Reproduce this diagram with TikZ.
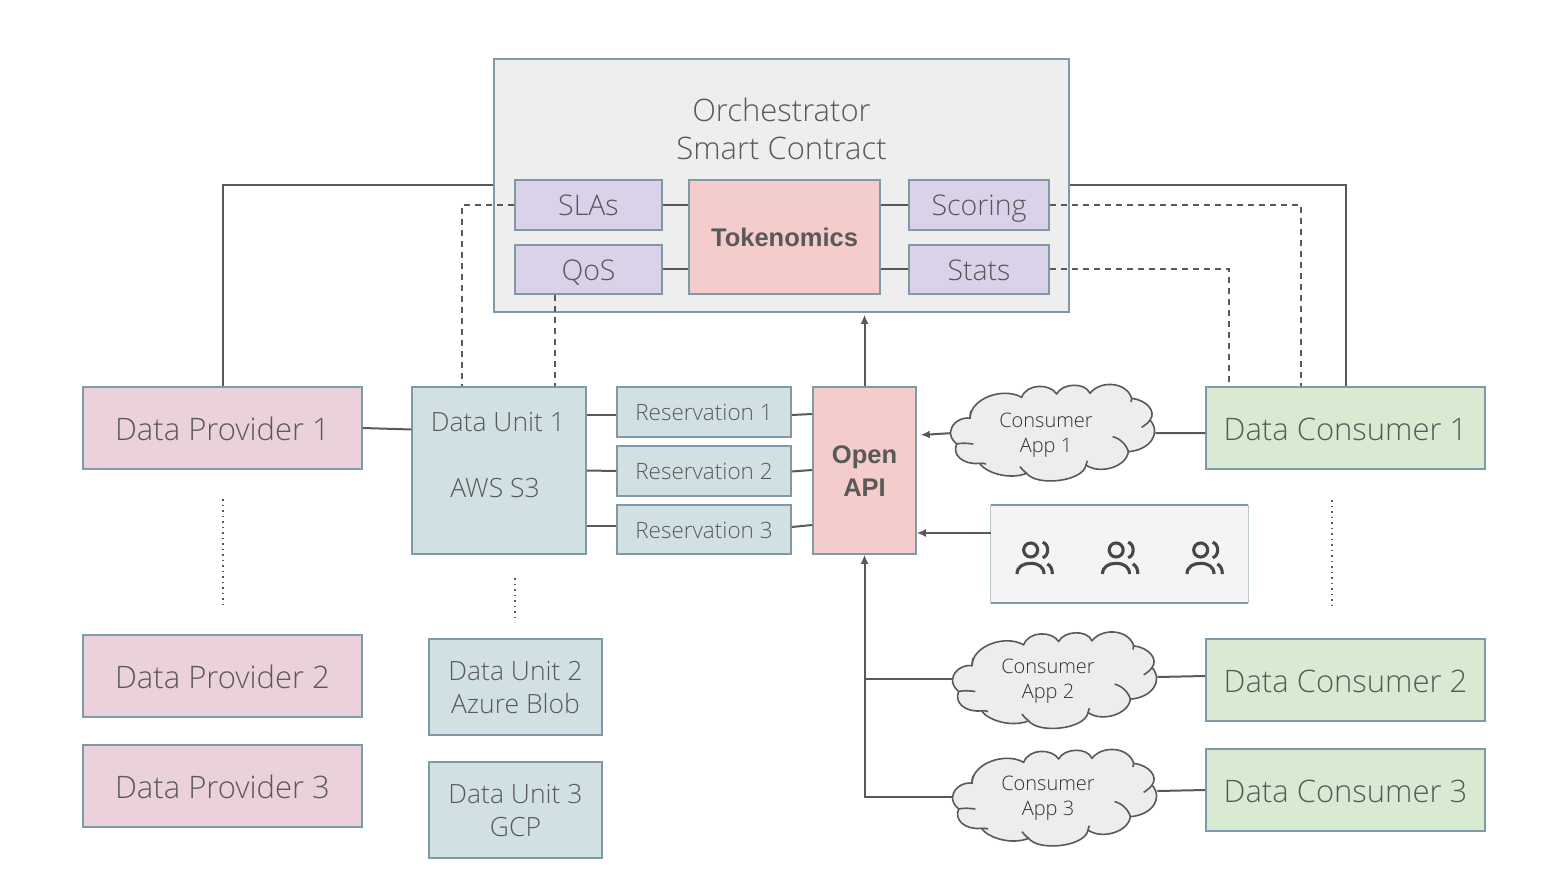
\documentclass[tikz,border=0pt]{standalone}
\usepackage{fontspec}
\setmainfont{Open Sans}[UprightFont=* Light,BoldFont=* Bold]
\newfontfamily\heavyface{Liberation Sans}
\usetikzlibrary{calc,arrows.meta}
\definecolor{txt}{HTML}{595959}
\definecolor{edge}{HTML}{7F99A6}
\definecolor{ln}{HTML}{595959}
\tikzset{
 bx/.style={draw=edge,line width=1.5pt,inner sep=0pt,text=txt,align=center},
 orchbox/.style={bx,fill=black!6.7},
 lilac/.style={bx,fill={rgb,255:red,217;green,210;blue,233},font=\fontsize{28.5}{34}\selectfont,text height=22pt,text depth=0pt},
 pinkbox/.style={bx,fill={rgb,255:red,244;green,204;blue,204},font=\fontsize{25.5}{33}\selectfont\heavyface\bfseries},
 provider/.style={bx,fill={rgb,255:red,234;green,209;blue,220},font=\fontsize{31}{37}\selectfont,text height=25.5pt,text depth=0pt},
 teal/.style={bx,fill={rgb,255:red,208;green,224;blue,227},font=\fontsize{26.5}{33}\selectfont},
 resv/.style={bx,fill={rgb,255:red,208;green,224;blue,227},font=\fontsize{22.5}{27}\selectfont},
 consumer/.style={bx,fill={rgb,255:red,217;green,234;blue,211},font=\fontsize{31}{37}\selectfont,text height=25.5pt,text depth=0pt},
 wire/.style={draw=ln,line width=2pt},
 dashwire/.style={wire,dash pattern=on 6pt off 5pt},
 dotwire/.style={draw=ln,line width=1.2pt,dash pattern=on 1.5pt off 4pt},
 arrowwire/.style={wire,-{Latex[length=9pt,width=8pt]}},
 cloudline/.style={draw=ln,line width=1.6pt,fill=black!7,line join=round},
 cloudlabel/.style={text=black!80,font=\fontsize{20}{25.5}\selectfont,align=center,inner sep=0pt},
 iconline/.style={draw=black!72,line width=3.1pt,line cap=butt},
 free/.style={text=txt,inner sep=0pt,align=center,font=\fontsize{26.5}{33}\selectfont},
 heavy/.style={text=txt,inner sep=0pt,align=center,font=\fontsize{25.5}{33}\selectfont\heavyface\bfseries},
}
\newcommand{\bbox}[7]{%
 \pgfmathsetmacro{\bcx}{(#2+#4)/2}\pgfmathsetmacro{\bcy}{(#3+#5)/2}%
 \pgfmathsetmacro{\bwd}{#4-#2}\pgfmathsetmacro{\bht}{#5-#3}%
 \node[#6,minimum width=\bwd pt,minimum height=\bht pt] (#1) at (\bcx,\bcy) {#7};}
\newcommand{\cloudat}[3]{%
 \begin{scope}[shift={(#2,#3)},x=0.33333pt,y=-0.33333pt]
  \path[cloudline] (92,185) .. controls (95,155) and (130,140) .. (150,145)
   .. controls (150,85) and (250,50) .. (305,82)
   .. controls (320,40) and (390,40) .. (410,72)
   .. controls (425,40) and (495,35) .. (510,70)
   .. controls (540,30) and (620,35) .. (635,85)
   .. controls (680,90) and (710,125) .. (690,150)
   .. controls (725,190) and (690,240) .. (625,245)
   .. controls (620,290) and (540,315) .. (498,285)
   .. controls (490,335) and (350,350) .. (320,310)
   .. controls (270,330) and (200,310) .. (178,280)
   .. controls (130,285) and (95,255) .. (110,222)
   .. controls (95,210) and (90,195) .. (92,185) -- cycle;
  \path[draw=ln,line width=1.6pt] (110,222) .. controls (125,218) and (145,220) .. (160,222);
  \path[draw=ln,line width=1.6pt] (578,200) .. controls (600,205) and (620,225) .. (625,245);
  \path[draw=ln,line width=1.6pt] (690,150) .. controls (685,158) and (675,166) .. (665,172);
  \path[draw=ln,line width=1.6pt] (150,145) .. controls (150,138) and (151,130) .. (153,122);
  \path[draw=ln,line width=1.6pt] (635,85) .. controls (635,90) and (634,93) .. (633,96);
  \path[draw=ln,line width=1.6pt] (498,285) .. controls (498,280) and (500,276) .. (502,272);
  \path[draw=ln,line width=1.6pt] (320,310) .. controls (310,302) and (304,296) .. (300,290);
  \path[draw=ln,line width=1.6pt] (178,280) .. controls (186,279) and (192,280) .. (198,282);
  \coordinate (#1w) at (92,185);
  \coordinate (#1e) at (706,189);
 \end{scope}}
\newcommand{\peopleicon}[2]{%
 \begin{scope}[shift={(#1,#2)},x=0.33333pt,y=-0.33333pt]
  \draw[iconline] (332,540) circle[radius=7pt];
  \draw[iconline] (368,517) .. controls (388,522) and (388,558) .. (368,563);
  \draw[iconline] (291,612) .. controls (291,590) and (310,580) .. (332,580) .. controls (354,580) and (372,590) .. (372,612);
  \draw[iconline] (382,582) .. controls (392,587) and (397,597) .. (397,612);
 \end{scope}}
\begin{document}
\begin{tikzpicture}[x=1pt,y=-1pt]
\useasboundingbox (0,0) rectangle (1566,885);
% orchestrator
\bbox{orch}{494}{59}{1069}{312}{orchbox}{}
\node[free,font=\fontsize{31}{38}\selectfont] (orchtitle) at (781.5,128.5) {Orchestrator\\Smart Contract};
\bbox{slas}{515}{180}{662}{230}{lilac}{SLAs}
\bbox{qos}{515}{245}{662}{294}{lilac}{QoS}
\bbox{tok}{689}{180}{880}{294}{pinkbox}{Tokenomics}
\bbox{scoring}{909}{180}{1049}{230}{lilac}{Scoring}
\bbox{stats}{909}{245}{1049}{294}{lilac}{Stats}
% providers
\bbox{dpa}{83}{387}{362}{469}{provider}{Data Provider 1}
\bbox{dpb}{83}{635}{362}{717}{provider}{Data Provider 2}
\bbox{dpc}{83}{745}{362}{827}{provider}{Data Provider 3}
% units
\bbox{dua}{412}{387}{586}{554}{teal}{}
\node[free] (duatext) at (498,422) {Data Unit 1};
\node[free] (duatextb) at (495,488) {AWS S3};
\bbox{dub}{429}{639}{602}{735}{teal}{}
\node[free] (dubtext) at (515.5,688) {Data Unit 2\\Azure Blob};
\bbox{duc}{429}{762}{602}{858}{teal}{}
\node[free] (ductext) at (515.5,811) {Data Unit 3\\GCP};
% reservations
\bbox{resa}{617}{387}{791}{437}{resv}{Reservation 1}
\bbox{resb}{617}{446}{791}{496}{resv}{Reservation 2}
\bbox{resc}{617}{505}{791}{554}{resv}{}
\node[resv,draw=none,fill=none,font=\fontsize{22.5}{27}\selectfont] (resctext) at (704,530.5) {Reservation 3};
\bbox{api}{813}{387}{916}{554}{pinkbox}{}
\node[heavy] (apitext) at (864.5,471.5) {Open\\API};
% consumers
\bbox{dca}{1206}{387}{1485}{469}{consumer}{Data Consumer 1}
\bbox{dcb}{1206}{639}{1485}{721}{consumer}{Data Consumer 2}
\bbox{dcc}{1206}{749}{1485}{831}{consumer}{Data Consumer 3}
% clouds
\cloudat{cla}{920}{370}
\cloudat{clb}{922}{617.5}
\cloudat{clc}{922}{735}
\node[cloudlabel] (clat) at (1046,435) {Consumer\\App 1};
\node[cloudlabel] (clbt) at (1048,681) {Consumer\\App 2};
\node[cloudlabel] (clct) at (1048,798) {Consumer\\App 3};
% people panel
\bbox{people}{991}{505}{1248}{603}{fill=black!4.5,inner sep=0pt}{}
\draw[draw=edge!55,line width=1.3pt] (people.north west) -- (people.south west);
\draw[draw=edge!55,line width=1.3pt] (people.north east) -- (people.south east);
\draw[draw=edge,line width=1.5pt] (people.north west) -- (people.north east);
\draw[draw=edge,line width=1.5pt] (people.south west) -- (people.south east);
\peopleicon{920}{370}
\peopleicon{1005.5}{370}
\peopleicon{1090}{370}
% solid connectors
\draw[wire] (dpa.north) |- (orch.west);
\draw[wire] (dca.north) |- (orch.east);
\draw[wire] (dpa.east) -- ([yshift=41pt]dua.west);
\draw[wire] ([yshift=55.5pt]dua.east) -- ([yshift=-3pt]resa.west);
\draw[wire] (dua.east) -- (resb.west);
\draw[wire] ([yshift=-55.5pt]dua.east) -- ([yshift=3.5pt]resc.west);
\draw[wire] ([yshift=-3pt]resa.east) -- ([yshift=56.5pt]api.west);
\draw[wire] ([yshift=-0.5pt]resb.east) -- ([yshift=0.5pt]api.west);
\draw[wire] ([yshift=2.5pt]resc.east) -- ([yshift=-54.5pt]api.west);
\draw[wire] (slas.east) -- (slas.east -| tok.west);
\draw[wire] (qos.east) -- (qos.east -| tok.west);
\draw[wire] (scoring.west) -- (scoring.west -| tok.east);
\draw[wire] (stats.west) -- (stats.west -| tok.east);
\draw[wire] ([yshift=-5pt]dca.west) -- (clae);
\draw[wire] ([yshift=4pt]dcb.west) -- ([yshift=3.5pt]clbe);
\draw[wire] (dcc.west) -- ([yshift=7pt]clce);
% dashed connectors
\draw[dashwire] (slas.west) -| ([xshift=-37pt]dua.north);
\draw[dashwire] ([xshift=-34pt]qos.south) -- ([xshift=-34pt]qos.south |- dua.north);
\draw[dashwire] (scoring.east) -| ([xshift=-44.5pt]dca.north);
\draw[dashwire] (stats.east) -| ([xshift=-116.5pt]dca.north);
% arrows
\draw[arrowwire] (api.north) -- ([yshift=-2pt]api.north |- orch.south);
\draw[arrowwire] ([yshift=-1.5pt]claw) -- ([xshift=4pt,yshift=35.5pt]api.east);
\draw[arrowwire] ([yshift=21pt]people.west) -- ([yshift=21pt]people.west -| api.east);
\draw[wire] (clbw) -- (clbw -| api.south);
\draw[arrowwire] (clcw) -| (api.south);
% dotted guides
\coordinate (dota) at (223,499); \coordinate (dotb) at (223,605);
\coordinate (dotc) at (515,578); \coordinate (dotd) at (515,622);
\coordinate (dote) at (1332,500); \coordinate (dotf) at (1332,605);
\draw[dotwire] (dota) -- (dotb);
\draw[dotwire] (dotc) -- (dotd);
\draw[dotwire] (dote) -- (dotf);
\end{tikzpicture}
\end{document}
